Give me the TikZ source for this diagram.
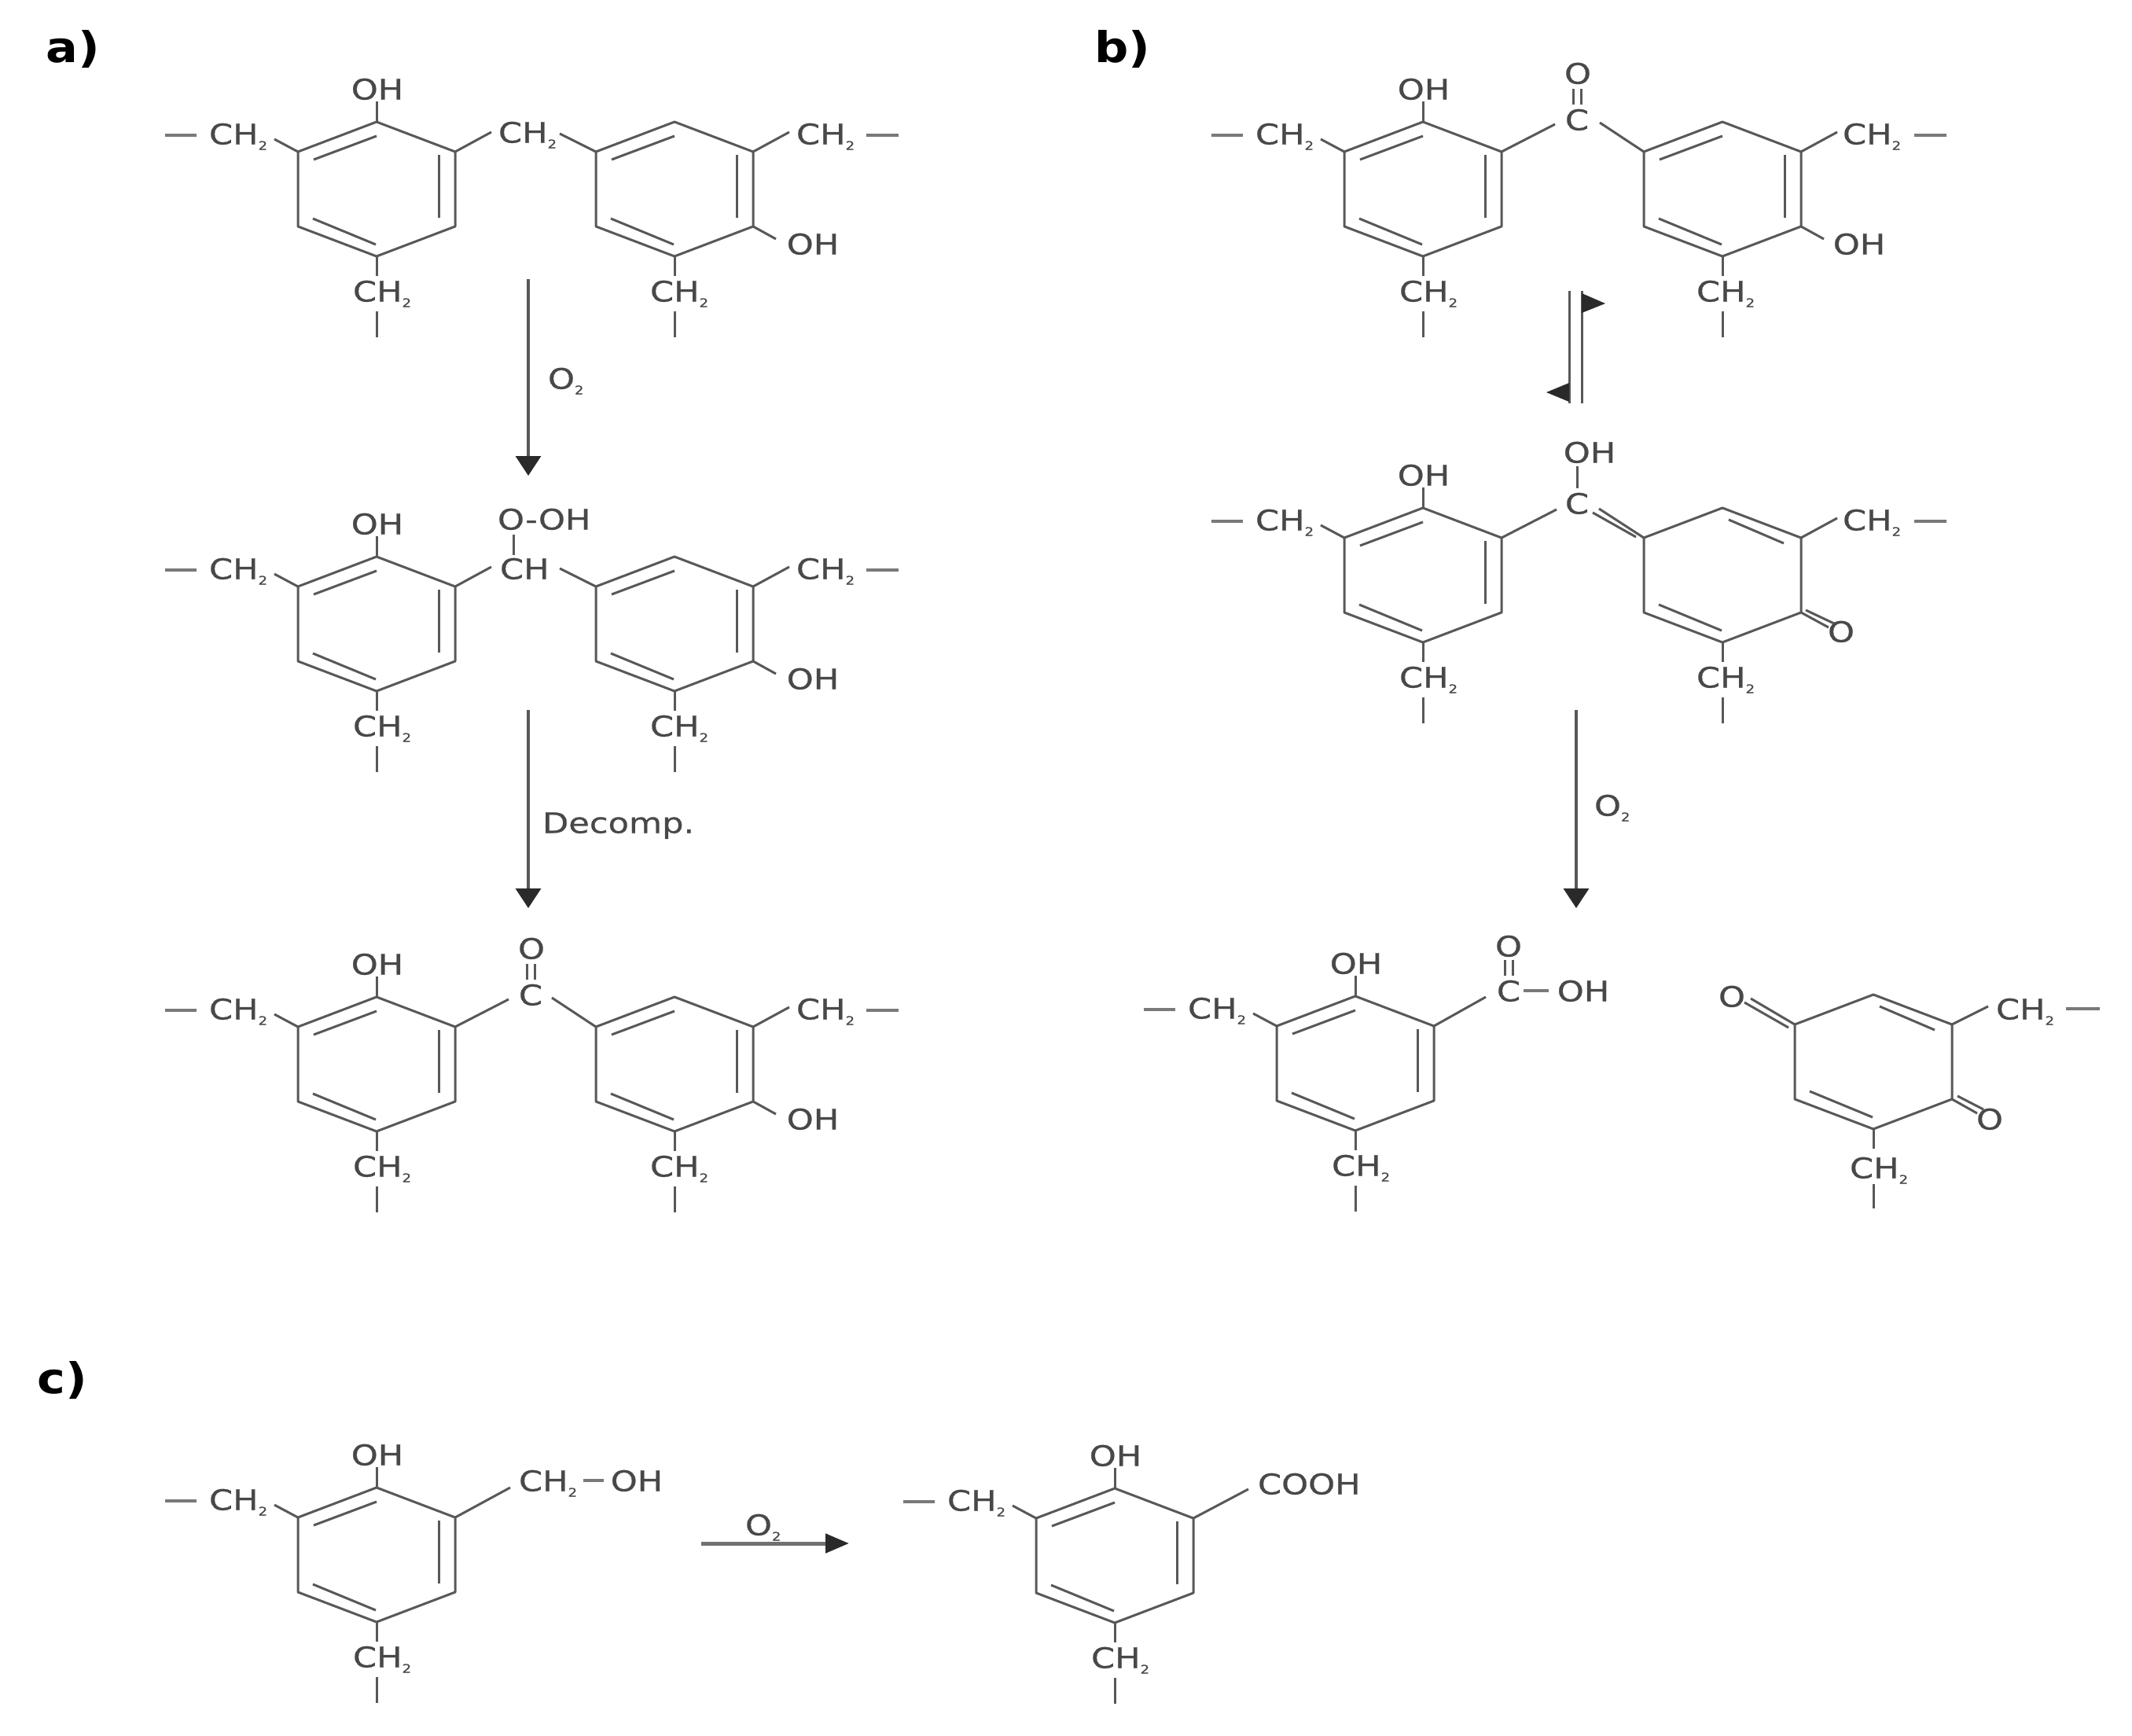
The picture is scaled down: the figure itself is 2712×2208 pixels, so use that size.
\documentclass[tikz,border=0pt]{standalone}
\usepackage{fontspec}
\usetikzlibrary{arrows.meta}
\newfontfamily\chem[FakeStretch=1.2,FakeBold=0.6]{DejaVu Sans}
\newfontfamily\chemb[FakeStretch=1.12]{DejaVu Sans}
\definecolor{inkgray}{HTML}{484848}
\definecolor{bondgray}{HTML}{585858}
\definecolor{headgray}{HTML}{2A2A2A}
\tikzset{
  bond/.style={draw=bondgray,line width=3pt,line join=round},
  chaindash/.style={draw=bondgray!80,line width=4pt},
  lab/.style={inner sep=0pt,outer sep=0pt,anchor=base west,text=inkgray,font=\chem\fontsize{36}{40}\selectfont},
  labc/.style={lab,anchor=base},
  panel/.style={inner sep=0pt,anchor=base west,text=black,font=\chemb\bfseries\fontsize{54}{60}\selectfont},
  rxn/.style={draw=bondgray,line width=3.5pt,-{Triangle[length=25pt,width=32pt,color=headgray]}},
  rxnh/.style={draw=bondgray!85,line width=5pt,-{Triangle[length=30pt,width=24pt,color=headgray]}},
  flag/.style={fill=headgray,draw=none}
}
\newcommand\subtwo{\raisebox{-7pt}{\fontsize{15}{15}\selectfont 2}}
% ring outline and vertices: name, top x, top y
\newcommand\ringBase[3]{%
  \coordinate (#1-t) at (#2,#3);
  \coordinate (#1-tr) at (#2+100,#3+38);
  \coordinate (#1-br) at (#2+100,#3+133);
  \coordinate (#1-b) at (#2,#3+171);
  \coordinate (#1-bl) at (#2-100,#3+133);
  \coordinate (#1-tl) at (#2-100,#3+38);
  \draw[bond] (#1-t)--(#1-tr)--(#1-br)--(#1-b)--(#1-bl)--(#1-tl)--cycle;
  \draw[bond] (#2-81,#3+123) -- (#2-1,#3+156);
}
% phenol-type ring
\newcommand\ringA[3]{%
  \ringBase{#1}{#2}{#3}
  \draw[bond] (#2-80,#3+48) -- (#2,#3+18);
  \draw[bond] (#2+79,#3+42) -- (#2+79,#3+122);
}
% quinone-type ring
\newcommand\ringQ[3]{%
  \ringBase{#1}{#2}{#3}
  \draw[bond] (#2+8,#3+15) -- (#2+78,#3+45);
}
% left half of a repeat unit, in the frame of panel a row 1
\newcommand\leftPart[1]{%
  \ringA{#1-l}{479}{155}
  \node[labc] (#1-oh) at (480,126.5) {OH};
  \node[lab] (#1-lch) at (266,183.5) {CH\subtwo};
  \node[lab] (#1-bch) at (449,383.5) {CH\subtwo};
  \draw[bond] (#1-l-t) -- +(0,-26);
  \draw[bond] (#1-l-tl) -- +(-30,-16);
  \draw[bond] (#1-l-b) -- +(0,25);
  \draw[bond] (#1-l-b) ++(0,70) -- +(0,33);
  \draw[chaindash] (#1-l-tl) ++(-169,-21) -- +(40,0);
}
% substituents of the right ring, same frame
\newcommand\rightSubs[1]{%
  \node[lab] (#1-rch) at (1013,183.5) {CH\subtwo};
  \node[lab] (#1-rbch) at (827,383.5) {CH\subtwo};
  \draw[bond] (#1-r-tr) -- +(46,-25);
  \draw[chaindash] (#1-r-tr) ++(144,-21) -- +(41,0);
  \draw[bond] (#1-r-b) -- +(0,25);
  \draw[bond] (#1-r-b) ++(0,70) -- +(0,33);
}
\newcommand\rightOH[1]{%
  \node[labc] (#1-roh) at (1034,323.5) {OH};
  \draw[bond] (#1-r-br) -- +(29,16);
}
% bridging C=O
\newcommand\ketone[1]{%
  \node[labc] (#1-c) at (675,165.5) {C};
  \node[labc] (#1-o) at (676,106.5) {O};
  \draw[bond] (#1-c.north) ++(-5,-6) -- +(0,-20);
  \draw[bond] (#1-c.north) ++(5,-6) -- +(0,-20);
  \draw[bond] (#1-l-tr) -- +(68,-35);
  \draw[bond] (#1-r-tl) -- +(-56,-37);
}
\begin{document}
\begin{tikzpicture}[x=1pt,y=-1pt]
\useasboundingbox (0,0) rectangle (2712,2208);
\fill[white] (0,0) rectangle (2712,2208);

% panel labels
\node[panel] (pa) at (58,80) {a)};
\node[panel] (pb) at (1392,80) {b)};
\node[panel] (pc) at (47,1772) {c)};

% ---------- a, row 1
\begin{scope}
  \leftPart{aa}
  \ringA{aa-r}{858}{155}
  \rightSubs{aa}
  \rightOH{aa}
  \node[lab] (aa-cc) at (634,181.5) {CH\subtwo};
  \draw[bond] (aa-l-tr) -- +(46,-25);
  \draw[bond] (aa-r-tl) -- +(-46,-23);
\end{scope}

% ---------- a, row 2
\begin{scope}[shift={(0,553)}]
  \leftPart{ab}
  \ringA{ab-r}{858}{155}
  \rightSubs{ab}
  \rightOH{ab}
  \node[lab] (ab-cc) at (636,183.5) {CH};
  \node[lab] (ab-ooh) at (633,120.5) {O-OH};
  \draw[bond] (ab-l-tr) -- +(46,-25);
  \draw[bond] (ab-r-tl) -- +(-46,-23);
  \draw[bond] (ab-cc.north west) ++(17,-4) -- +(0,-26);
\end{scope}

% ---------- a, row 3
\begin{scope}[shift={(0,1113)}]
  \leftPart{ac}
  \ringA{ac-r}{858}{155}
  \rightSubs{ac}
  \rightOH{ac}
  \ketone{ac}
\end{scope}

% ---------- b, row 1
\begin{scope}[shift={(1331,0)}]
  \leftPart{ba}
  \ringA{ba-r}{860}{155}
  \rightSubs{ba}
  \rightOH{ba}
  \ketone{ba}
\end{scope}

% ---------- b, row 2
\begin{scope}[shift={(1331,491)}]
  \leftPart{bb}
  \ringQ{bb-r}{860}{155}
  \rightSubs{bb}
  \node[labc] (bb-c) at (675,162.5) {C};
  \node[labc] (bb-oh) at (691,97.5) {OH};
  \node[labc] (bb-o) at (1011,325.5) {O};
  \draw[bond] (bb-c.north) ++(0,-6) -- +(0,-28);
  \draw[bond] (bb-l-tr) -- +(70,-36);
  \draw[bond] (bb-r-tl) -- +(-57,-37);
  \draw[bond] (bb-r-tl) ++(-10,-1) -- +(-55,-31);
  \draw[bond] (bb-r-br) -- +(35,19);
  \draw[bond] (bb-r-br) ++(6,-3) -- +(36,17);
\end{scope}

% ---------- b, row 3 left
\begin{scope}[shift={(1245,1112)}]
  \leftPart{bc}
  \node[labc] (bc-c) at (674,161.5) {C};
  \node[labc] (bc-o) at (674,104.5) {O};
  \node[labc] (bc-oh) at (769,161.5) {OH};
  \draw[bond] (bc-c.north) ++(-5,-6) -- +(0,-20);
  \draw[bond] (bc-c.north) ++(5,-6) -- +(0,-20);
  \draw[chaindash] (bc-c.east) ++(4,0) -- +(32,0);
  \draw[bond] (bc-l-tr) -- +(66,-37);
\end{scope}

% ---------- b, row 3 right (quinone)
\ringQ{bd}{2383}{1265}
\node[labc] (bd-ol) at (2203,1280.5) {O};
\node[labc] (bd-or) at (2531,1436.5) {O};
\node[lab] (bd-rch) at (2539,1296.5) {CH\subtwo};
\node[lab] (bd-bch) at (2353,1498.5) {CH\subtwo};
\draw[bond] (bd-tl) -- +(-56,-33);
\draw[bond] (bd-tl) ++(-8,4) -- +(-56,-32);
\draw[bond] (bd-br) -- +(32,18);
\draw[bond] (bd-br) ++(7,-4) -- +(33,17);
\draw[bond] (bd-tr) -- +(46,-23);
\draw[chaindash] (bd-tr) ++(145,-20) -- +(43,0);
\draw[bond] (bd-b) -- +(0,25);
\draw[bond] (bd-b) ++(0,70) -- +(0,31);

% ---------- c, left
\begin{scope}[shift={(0,1737)}]
  \leftPart{ca}
  \node[lab] (ca-ch) at (660,159.5) {CH\subtwo};
  \node[labc] (ca-oh) at (810,159.5) {OH};
  \draw[chaindash] (ca-oh.west) ++(-35,0) -- +(26,0);
  \draw[bond] (ca-l-tr) -- +(70,-38);
\end{scope}

% ---------- c, right
\begin{scope}[shift={(939,1738)}]
  \leftPart{cb}
  \node[lab] (cb-cooh) at (661,162.5) {COOH};
  \draw[bond] (cb-l-tr) -- +(70,-37);
\end{scope}

% ---------- reaction arrows
\coordinate (r1s) at (672,355);   \coordinate (r1e) at (672,605);
\coordinate (r2s) at (672,903);   \coordinate (r2e) at (672,1155);
\coordinate (r3s) at (2005,903);  \coordinate (r3e) at (2005,1155);
\coordinate (r4s) at (892,1963);  \coordinate (r4e) at (1080,1963);
\draw[rxn] (r1s) -- (r1e);
\draw[rxn] (r2s) -- (r2e);
\draw[rxn] (r3s) -- (r3e);
\draw[rxnh] (r4s) -- (r4e);
\node[lab] (t1) at (697,494.5) {O\subtwo};
\node[lab] (t2) at (690,1059.5) {Decomp.};
\node[lab] (t3) at (2028,1037.5) {O\subtwo};
\node[lab] (t4) at (948,1952.5) {O\subtwo};

% ---------- equilibrium arrows
\coordinate (e1s) at (1996,370);  \coordinate (e1e) at (1996,513);
\coordinate (e2s) at (2012,370);  \coordinate (e2e) at (2012,513);
\draw[bond] (e1s) -- (e1e);
\draw[bond] (e2s) -- (e2e);
\fill[flag] (e2s) ++(0,3) -- ++(30,13) -- ++(-30,12) -- cycle;
\fill[flag] (e1e) ++(0,-26) -- ++(-29,12) -- ++(29,12) -- cycle;
\end{tikzpicture}
\end{document}
